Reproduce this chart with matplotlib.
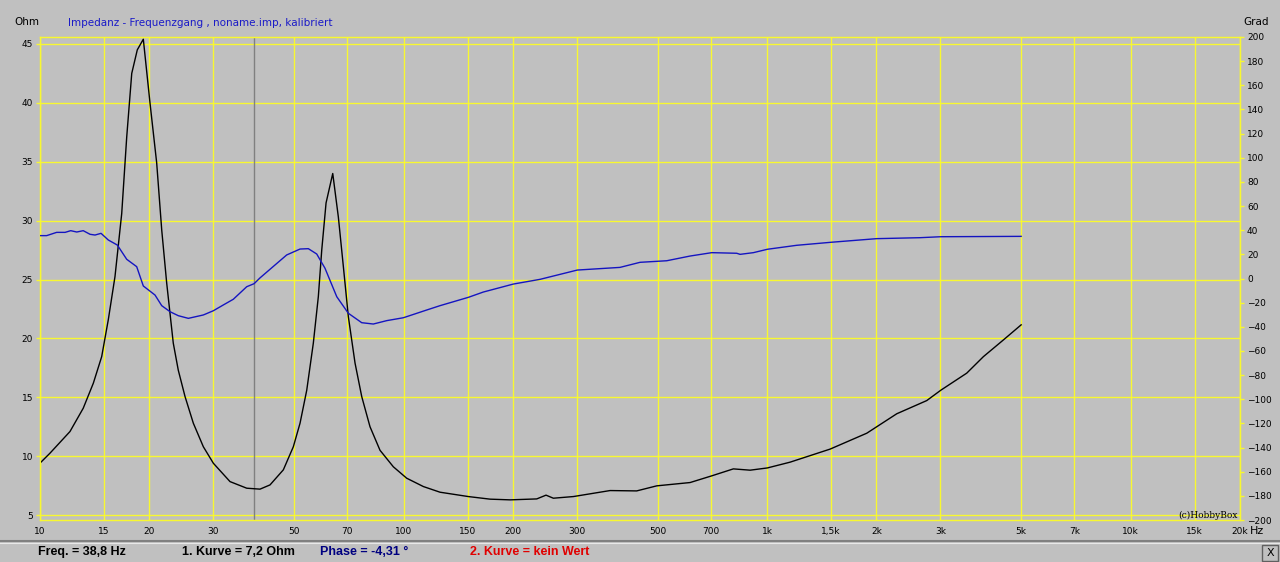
import matplotlib
matplotlib.use("Agg")
import matplotlib.pyplot as plt
from matplotlib.lines import Line2D
from matplotlib.patches import Rectangle

# impedance curve (Ohm)
imp_freq = [10, 10.65, 12.09, 13.15, 14.02, 14.78, 15.41, 16.08, 16.78, 17.32,
            17.88, 18.52, 19.24, 20.07, 20.94, 21.62, 22.31, 23.26, 24.01, 25.06,
            26.41, 28.14, 29.98, 33.32, 37.04, 40.29, 42.93, 46.71, 49.76, 51.92,
            54.17, 56.48, 58.3, 59.57, 61.22, 63.87, 66.18, 68.31, 70.5, 73.56,
            76.74, 80.87, 86.16, 93.74, 102.0, 113.4, 126.0, 150.8, 173.0, 196.3,
            232.5, 246.6, 258.3, 293.2, 370.0, 437.9, 497.3, 614.1, 704.6, 807.8,
            898.3, 1002, 1157, 1491, 1881, 2274, 2750, 3006, 3543, 3937, 4469, 5000]
imp_ohm = [9.41, 10.25, 12.09, 14.07, 16.2, 18.45, 21.57, 25.25, 30.6, 37.1,
           42.5, 44.5, 45.4, 40.0, 34.9, 29.2, 24.7, 19.6, 17.3, 15.06,
           12.8, 10.8, 9.4, 7.84, 7.28, 7.2, 7.56, 8.84, 10.8, 12.8,
           15.6, 19.6, 23.55, 27.5, 31.5, 34.0, 30.3, 26.1, 21.85, 17.9,
           15.06, 12.5, 10.5, 9.1, 8.13, 7.42, 6.94, 6.57, 6.35, 6.29,
           6.37, 6.69, 6.43, 6.57, 7.08, 7.05, 7.48, 7.76, 8.33, 8.92,
           8.81, 9.0, 9.49, 10.6, 11.95, 13.6, 14.72, 15.6, 17.05, 18.45, 19.87, 21.15]

# phase curve (Grad)
ph_freq = [10, 10.43, 11.11, 11.72, 12.15, 12.62, 13.15, 13.73, 14.17, 14.72,
           15.41, 16.32, 17.32, 18.45, 19.24, 20.72, 21.62, 22.79, 24.01, 25.59,
           28.14, 29.98, 31.94, 34.02, 37.04, 38.8, 40.29, 43.84, 47.71, 51.92,
           54.72, 57.70, 60.81, 65.52, 70.5, 76.74, 82.58, 89.90, 99.9, 115.8,
           126.0, 150.8, 165.8, 200.5, 237.4, 300.7, 394.0, 447.3, 529.7, 614.1,
           704.6, 825.3, 842.8, 917.0, 1002, 1207, 1500, 2003, 2636, 3006, 5000]
ph_deg = [35.5, 35.5, 38.2, 38.2, 39.6, 38.5, 39.6, 36.6, 36.0, 37.4,
          31.9, 27.7, 15.9, 9.8, -6.2, -13.7, -22.5, -27.5, -30.8, -33.0,
          -30.2, -26.7, -21.9, -17.2, -6.8, -4.31, 0.5, 10.0, 19.5, 24.4,
          24.7, 20.3, 8.5, -15.1, -28.8, -36.6, -37.7, -34.9, -32.5, -26.1,
          -22.5, -15.6, -11.2, -4.6, -0.7, 7.0, 9.2, 13.4, 14.7, 18.6,
          21.4, 20.9, 20.0, 21.4, 24.2, 27.5, 30.0, 33.0, 33.8, 34.6, 34.9]

x_ticks = [10, 15, 20, 30, 50, 70, 100, 150, 200, 300, 500, 700, 1000, 1500,
           2000, 3000, 5000, 7000, 10000, 15000, 20000]
x_labels = ["10", "15", "20", "30", "50", "70", "100", "150", "200", "300", "500",
            "700", "1k", "1,5k", "2k", "3k", "5k", "7k", "10k", "15k", "20k"]
ohm_ticks = [5, 10, 15, 20, 25, 30, 35, 40, 45]
grad_ticks = list(range(-200, 201, 20))
cursor_freq = 38.8

bg = "#c0c0c0"
yel = "#f8f830"

fig = plt.figure(figsize=(12.8, 5.62), dpi=100, facecolor=bg)
ax = fig.add_axes([40 / 1280, 42 / 562, 1200 / 1280, 483 / 562])
ax.set_facecolor(bg)
ax.set_xscale("log")
ax.set_xlim(10, 20000)
ax.set_ylim(4.58, 45.59)
ax.set_xticks(x_ticks)
ax.set_xticklabels(x_labels)
ax.minorticks_off()
ax.set_yticks(ohm_ticks)
ax.tick_params(axis="both", labelsize=6.5, color=yel, length=3, width=1, pad=2)
ax.tick_params(axis="x", length=0, pad=5)
for v in x_ticks:
    ax.axvline(v, color=yel, lw=1, zorder=1)
for v in ohm_ticks:
    ax.axhline(v, color=yel, lw=1, zorder=1)
for s in ax.spines.values():
    s.set_color(yel)
    s.set_linewidth(1)

ax.axvline(cursor_freq, color="#808080", lw=1, zorder=2)
ax.plot(imp_freq, imp_ohm, color="black", lw=1, zorder=4)

ax2 = ax.twinx()
ax2.set_ylim(-200, 200)
ax2.set_yticks(grad_ticks)
ax2.tick_params(axis="y", labelsize=6.5, color=yel, length=3, width=1, pad=2)
for s in ax2.spines.values():
    s.set_color(yel)
ax2.plot(ph_freq, ph_deg, color="#1414c0", lw=1, zorder=3)

def px(x, y):
    return x / 1280, 1 - y / 562

fig.text(*px(14, 22), "Ohm", fontsize=7.5, va="center")
fig.text(*px(1243, 22), "Grad", fontsize=7.5, va="center")
fig.text(*px(68, 23), "Impedanz - Frequenzgang , noname.imp, kalibriert",
         fontsize=7.5, color="#1a1ac8", va="center")
fig.text(*px(1250, 531), "Hz", fontsize=8, va="center")
fig.text(*px(1238, 515), "(c)HobbyBox", fontsize=6.5, family="DejaVu Serif",
         ha="right", va="center")

# status bar at the bottom
fig.add_artist(Line2D([0, 1], [1 - 541 / 562] * 2, color="#808080", lw=1.5))
fig.add_artist(Line2D([0, 1], [1 - 543 / 562] * 2, color="#e8e8e8", lw=0.8))
status = [(38, "Freq. = 38,8 Hz", "black"),
          (182, "1. Kurve = 7,2 Ohm", "black"),
          (320, "Phase = -4,31 \u00b0", "#000080"),
          (470, "2. Kurve = kein Wert", "#e00000")]
for x, txt, c in status:
    fig.text(*px(x, 552), txt, fontsize=9, fontweight="bold", color=c,
             family="Liberation Sans", va="center")
fig.add_artist(Rectangle(px(1262, 561), 16 / 1280, 16 / 562, facecolor=bg,
                         edgecolor="#606060", lw=1))
fig.text(*px(1270, 553), "X", fontsize=8, ha="center", va="center")

fig.savefig("out.png", dpi=100, facecolor=bg)
